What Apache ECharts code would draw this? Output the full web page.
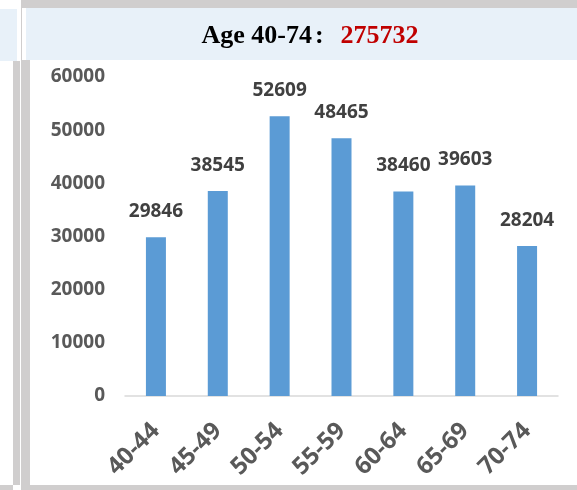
<!DOCTYPE html>
<html>
<head>
<meta charset="utf-8">
<script src="https://cdn.jsdelivr.net/npm/echarts@6/dist/echarts.min.js"></script>
<style>
  html, body { margin:0; padding:0; width:577px; height:490px; overflow:hidden; background:#fff; }
  .blk { position:absolute; }
  #main { position:absolute; left:0; top:0; width:577px; height:490px; }
</style>
</head>
<body>
<!-- left neighbour panel -->
<div class="blk" style="left:0;top:9px;width:17px;height:52px;background:#e8f1f9;"></div>
<div class="blk" style="left:13px;top:61px;width:7px;height:424px;background:#d0cece;"></div>
<div class="blk" style="left:0;top:485px;width:13px;height:5px;background:#d0cece;"></div>
<div class="blk" style="left:21px;top:0;width:1px;height:490px;background:#d0cece;"></div>
<!-- main panel frame -->
<div class="blk" style="left:22px;top:0;width:555px;height:8px;background:#d0cece;"></div>
<div class="blk" style="left:26px;top:8px;width:551px;height:52px;background:#e8f1f9;"></div>
<div class="blk" style="left:22px;top:60px;width:8px;height:430px;background:#d0cece;"></div>
<div class="blk" style="left:30px;top:485px;width:547px;height:5px;background:#d0cece;"></div>

<div id="main"></div>
<script>
var categories = ['40-44', '45-49', '50-54', '55-59', '60-64', '65-69', '70-74'];
var counts = [29846, 38545, 52609, 48465, 38460, 39603, 28204];
var titleLabel = 'Age 40-74';
var titleTotal = '275732';

var chart = echarts.init(document.getElementById('main'));
chart.setOption({
  backgroundColor: 'transparent',
  animation: false,
  title: {
    text: '{a|' + titleLabel + '}{c|:}{b|' + titleTotal + '}',
    left: 305,
    top: 18,
    textAlign: 'center',
    textStyle: {
      rich: {
        a: { fontFamily: 'Liberation Serif', fontWeight: 'bold', fontSize: 26, color: '#000' },
        c: { fontFamily: 'Liberation Serif', fontWeight: 'bold', fontSize: 26, color: '#000', padding: [0, 17, 0, 3] },
        b: { fontFamily: 'Liberation Serif', fontWeight: 'bold', fontSize: 26, color: '#c00000' }
      }
    }
  },
  grid: { left: 125, right: 19, top: 77, bottom: 94 },
  xAxis: {
    type: 'category',
    data: categories,
    axisLine: { lineStyle: { color: '#d9d9d9', width: 1.5 } },
    axisTick: { show: false },
    axisLabel: {
      rotate: 45,
      margin: 31,
      color: '#595959',
      fontFamily: 'Noto Sans',
      fontWeight: 'bold',
      fontSize: 24
    }
  },
  yAxis: {
    type: 'value',
    min: 0,
    max: 60000,
    interval: 10000,
    splitLine: { show: false },
    axisLine: { show: false },
    axisTick: { show: false },
    axisLabel: {
      margin: 20,
      formatter: function (v) { return String(v); },
      color: '#595959',
      fontFamily: 'Noto Sans',
      fontWeight: 'bold',
      fontSize: 19
    }
  },
  series: [{
    type: 'bar',
    data: counts,
    barWidth: 20,
    itemStyle: { color: '#5b9bd5' },
    label: {
      show: true,
      position: 'top',
      distance: 16,
      color: '#404040',
      fontFamily: 'Noto Sans',
      fontWeight: 'bold',
      fontSize: 19
    }
  }]
});
</script>
</body>
</html>
